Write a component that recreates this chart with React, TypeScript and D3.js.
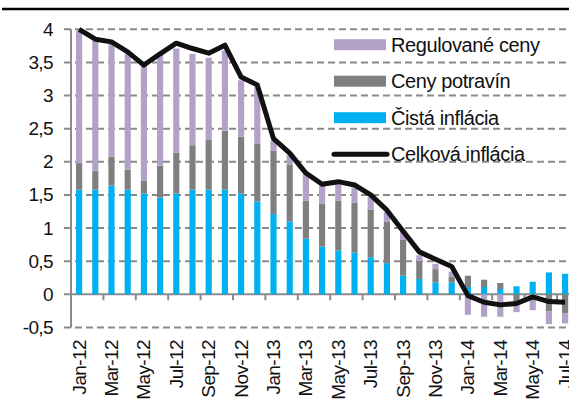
import React from 'react'
import * as d3 from 'd3'

const months = [
  'Jan-12', 'Feb-12', 'Mar-12', 'Apr-12', 'May-12', 'Jun-12', 'Jul-12', 'Aug-12', 'Sep-12', 'Oct-12', 'Nov-12', 'Dec-12',
  'Jan-13', 'Feb-13', 'Mar-13', 'Apr-13', 'May-13', 'Jun-13', 'Jul-13', 'Aug-13', 'Sep-13', 'Oct-13', 'Nov-13', 'Dec-13',
  'Jan-14', 'Feb-14', 'Mar-14', 'Apr-14', 'May-14', 'Jun-14', 'Jul-14'
]

// contributions, in percentage points
const coreInflation = [
  1.58, 1.58, 1.64, 1.58, 1.52, 1.46, 1.52, 1.58, 1.58, 1.58, 1.52, 1.40,
  1.21, 1.10, 0.84, 0.72, 0.66, 0.63, 0.56, 0.47, 0.28, 0.23, 0.18, 0.18,
  0.11, 0.11, 0.08, 0.12, 0.19, 0.33, 0.31
]
const foodPrices = [
  0.40, 0.28, 0.44, 0.30, 0.20, 0.48, 0.62, 0.67, 0.75, 0.89, 0.86, 0.87,
  0.96, 0.86, 0.57, 0.65, 0.75, 0.75, 0.72, 0.63, 0.54, 0.27, 0.20, 0.08,
  0.17, 0.11, 0.09, -0.15, 0.00, -0.26, -0.29
]
const regulatedPrices = [
  2.00, 1.97, 1.70, 1.75, 1.74, 1.69, 1.57, 1.38, 1.24, 1.21, 0.85, 0.86,
  0.15, 0.14, 0.40, 0.27, 0.26, 0.23, 0.19, 0.14, 0.14, 0.09, 0.08, 0.08,
  -0.31, -0.34, -0.34, -0.12, -0.24, -0.19, -0.15
]
const totalInflation = [
  4.00, 3.85, 3.81, 3.66, 3.46, 3.63, 3.79, 3.71, 3.64, 3.76, 3.28, 3.16,
  2.35, 2.13, 1.83, 1.66, 1.70, 1.65, 1.50, 1.27, 0.95, 0.64, 0.53, 0.42,
  -0.02, -0.12, -0.16, -0.14, -0.04, -0.11, -0.12
]

const yTicks = [-0.5, 0, 0.5, 1, 1.5, 2, 2.5, 3, 3.5, 4]

const seriesKeys = ['core', 'food', 'regulated']
const seriesColor: Record<string, string> = { core: '#00b0f0', food: '#7f7f7f', regulated: '#b3a2c7' }
const legendItems = [
  { key: 'regulated', label: 'Regulované ceny' },
  { key: 'food', label: 'Ceny potravín' },
  { key: 'core', label: 'Čistá inflácia' },
  { key: 'total', label: 'Celková inflácia' }
]

const W = 569
const H = 416
const left = 71
const font = '"Liberation Sans", Arial, Helvetica, sans-serif'

export default function App() {
  const rows = months.map((m, i) => ({
    month: m,
    core: coreInflation[i],
    food: foodPrices[i],
    regulated: regulatedPrices[i]
  }))

  const x = d3.scaleBand<string>()
    .domain(months)
    .range([left, left + 31 * 16.2])
    .paddingInner(0.62)
    .paddingOuter(0.31)

  const y = d3.scaleLinear().domain([-0.5, 4]).range([327.4, 29.3])

  const stacked = d3.stack<any>()
    .keys(seriesKeys)
    .offset(d3.stackOffsetDiverging)(rows)

  const cx = (m: string) => (x(m) as number) + x.bandwidth() / 2

  const line = d3.line<number>()
    .x((_, i) => cx(months[i]))
    .y(d => y(d))

  const gridColor = '#8a8a8a'

  return (
    <svg width={W} height={H} style={{ position: 'absolute', left: 0, top: 0, fontFamily: font }}>
      <rect width={W} height={H} fill="#fff" />
      <line x1={2} x2={W} y1={9} y2={9} stroke="#000" strokeWidth={2.5} />

      {yTicks.map(t => (
        <g key={t}>
          {t !== 0 && (
            <line x1={64} x2={W} y1={y(t)} y2={y(t)} stroke={gridColor} strokeWidth={2} strokeDasharray="7,4" />
          )}
          <text x={53} y={y(t) + 6.5} textAnchor="end" fontSize={19} letterSpacing={-0.6} fill="#111">
            {String(t).replace('.', ',')}
          </text>
        </g>
      ))}

      <line x1={64} x2={W} y1={y(0)} y2={y(0)} stroke={gridColor} strokeWidth={2} />
      <line x1={left} x2={left} y1={y(4)} y2={y(-0.5)} stroke={gridColor} strokeWidth={2} />

      {months.map((m, i) => i % 2 === 0 && i > 0 ? (
        <line key={m} x1={cx(m) - x.step() / 2} x2={cx(m) - x.step() / 2} y1={y(0)} y2={y(0) + 6}
          stroke={gridColor} strokeWidth={2} />
      ) : null)}

      {stacked.map(s => (
        <g key={s.key} fill={seriesColor[s.key]}>
          {s.map((d, i) => {
            const y0 = y(d[0]), y1 = y(d[1])
            return (
              <rect key={i} x={x(months[i])} width={x.bandwidth()}
                y={Math.min(y0, y1)} height={Math.abs(y0 - y1)} />
            )
          })}
        </g>
      ))}

      <path d={line(totalInflation) || ''} fill="none" stroke="#111" strokeWidth={5} strokeLinejoin="round" />

      {months.map((m, i) => i % 2 === 0 ? (
        <text key={m} transform={`translate(${cx(m) + 6.5},340) rotate(-90)`} textAnchor="end"
          fontSize={19} letterSpacing={-0.6} fill="#111">{m}</text>
      ) : null)}

      {legendItems.map((item, i) => {
        const cy = 44.7 + i * 36.5
        return (
          <g key={item.key}>
            {item.key === 'total'
              ? <line x1={334} x2={387} y1={cy} y2={cy} stroke="#111" strokeWidth={5} strokeLinecap="round" />
              : <rect x={334} y={cy - 5.5} width={52} height={11} fill={seriesColor[item.key]} />}
            <text x={391} y={cy + 7} fontSize={20} letterSpacing={-0.4} fill="#111">{item.label}</text>
          </g>
        )
      })}
    </svg>
  )
}
